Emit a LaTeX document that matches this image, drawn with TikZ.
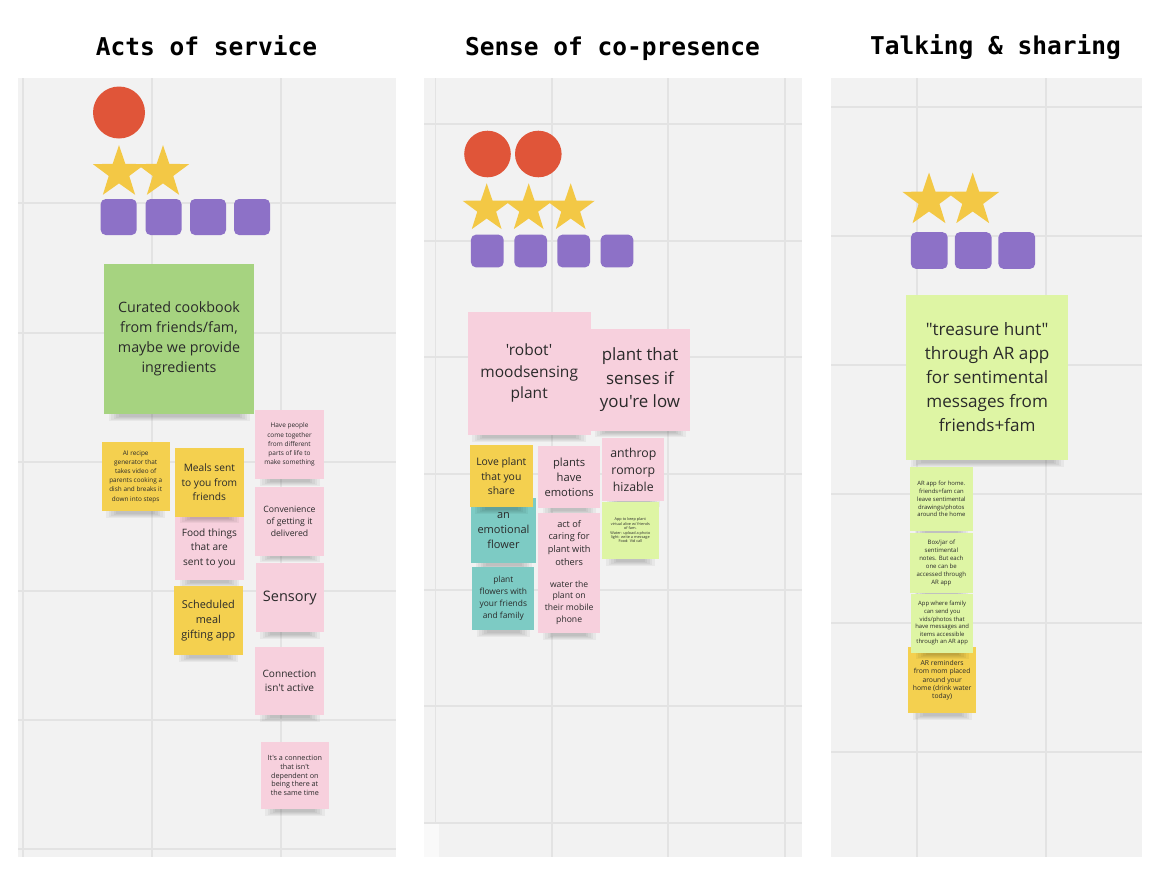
\documentclass[tikz,border=0pt]{standalone}
\usepackage{fontspec}
\setmainfont{Open Sans}[Ligatures=TeXOff]
\newfontfamily\titlefont{DejaVu Sans Mono}
\usetikzlibrary{shapes.geometric}
\definecolor{panelbg}{HTML}{F2F2F2}
\definecolor{gridc}{HTML}{E3E3E3}
\definecolor{redc}{HTML}{E05539}
\definecolor{starc}{HTML}{F3C845}
\definecolor{purpc}{HTML}{8D71C7}
\definecolor{stgreen}{HTML}{A6D380}
\definecolor{stlgreen}{HTML}{DEF5A4}
\definecolor{stpink}{HTML}{F7D0DD}
\definecolor{styellow}{HTML}{F4D04F}
\definecolor{stteal}{HTML}{7DCBC4}
\definecolor{txtc}{HTML}{2A2A2A}
\newcommand{\stick}[9]{%
  \foreach \i in {1,...,5}{%
    \fill[black,opacity=0.045] ({#2+2+2.5*\i},{#5-4}) rectangle ({#4-2-2.5*\i},{#5+7.5-\i});}
  \node[sticky, fill=#6, minimum width={#4-#2}, minimum height={#5-#3},
        font=\fontsize{#7}{#8}\selectfont] (#1) at ({(#2+#4)/2},{(#3+#5)/2}) {#9};%
}
\begin{document}
\begin{tikzpicture}[x=1pt,y=-1pt,
  title/.style={font=\titlefont\bfseries\fontsize{24.5}{28}\selectfont, text=black, anchor=base, inner sep=0pt},
  sticky/.style={inner sep=0pt, align=center, text=txtc},
  dot/.style={circle, fill=redc, inner sep=0pt},
  starn/.style={star, star points=5, star point ratio=2.55, fill=starc, inner sep=0pt},
  sq/.style={rectangle, rounded corners=5pt, fill=purpc, inner sep=0pt},
  gridline/.style={draw=gridc, line width=1.3pt}]
\useasboundingbox (0,0) rectangle (1162,892);
\fill[white] (0,0) rectangle (1162,892);

% titles
\node[title] (t1) at (206.5,55) {Acts of service};
\node[title] (t2) at (612.5,55) {Sense of co-presence};
\node[title] (t3) at (995.5,54) {Talking \& sharing};

% panels
\fill[panelbg] (18,78) rectangle (396,857);
\fill[panelbg] (424,78) rectangle (802,857);
\fill[panelbg] (831,78) rectangle (1142,857);
\begin{scope}
  \clip (18,78) rectangle (396,857);
  \foreach \x in {23,152,281} \draw[gridline] (\x,78) -- (\x,857);
  \foreach \y in {203,333,462,591,720,849} \draw[gridline] (18,\y) -- (396,\y);
\end{scope}
\begin{scope}
  \clip (424,78) rectangle (802,857);
  \foreach \x in {435.5,552,668,785} \draw[gridline] (\x,78) -- (\x,857);
  \foreach \y in {124,241,357,474,590,706,823} \draw[gridline] (424,\y) -- (802,\y);
  \fill[white!55!panelbg] (424,824) rectangle (438.5,857);
\end{scope}
\begin{scope}
  \clip (831,78) rectangle (1142,857);
  \foreach \x in {917,1046} \draw[gridline] (\x,78) -- (\x,857);
  \foreach \y in {107,236,365,494,623,752} \draw[gridline] (831,\y) -- (1142,\y);
\end{scope}

% ---- left: markers
\node[dot, minimum size=52pt] (lc1) at (119,112.5) {};
\node[starn, minimum size=55pt] (ls1) at (119,172.6) {};
\node[starn, minimum size=55pt] (ls2) at (163,172.6) {};
\node[sq, minimum size=36pt] (lq1) at (118.7,217) {};
\node[sq, minimum size=36pt] (lq2) at (163.5,217) {};
\node[sq, minimum size=36pt] (lq3) at (208,217) {};
\node[sq, minimum size=36pt] (lq4) at (252,217) {};

% ---- middle: markers
\node[dot, minimum size=46.6pt] (mc1) at (487.5,154) {};
\node[dot, minimum size=46.6pt] (mc2) at (538.3,154) {};
\node[starn, minimum size=50.6pt] (ms1) at (486.7,208.6) {};
\node[starn, minimum size=50.6pt] (ms2) at (528.7,208.6) {};
\node[starn, minimum size=50.6pt] (ms3) at (570.7,208.6) {};
\node[sq, minimum size=32.7pt] (mq1) at (487.3,251) {};
\node[sq, minimum size=32.7pt] (mq2) at (530.7,251) {};
\node[sq, minimum size=32.7pt] (mq3) at (573.7,251) {};
\node[sq, minimum size=32.7pt] (mq4) at (617,251) {};

% ---- right: markers
\node[starn, minimum size=56pt] (rs1) at (929,200.5) {};
\node[starn, minimum size=56pt] (rs2) at (972.7,200.5) {};
\node[sq, minimum size=36.7pt] (rq1) at (929.3,250.5) {};
\node[sq, minimum size=36.7pt] (rq2) at (973.2,250.5) {};
\node[sq, minimum size=36.7pt] (rq3) at (1016.8,250.5) {};

% ---- left stickies
\stick{cook}{104}{264}{254}{414}{stgreen}{14.3}{20}{Curated cookbook\\from friends/fam,\\maybe we provide\\ingredients}
\stick{airecipe}{101.7}{442}{169.7}{511}{styellow}{6.4}{9.2}{AI recipe\\generator that\\takes video of\\parents cooking a\\dish and breaks it\\down into steps}
\stick{food}{175}{516.7}{243.7}{580}{stpink}{10.1}{14.2}{Food things\\that are\\sent to you}
\stick{meals}{175}{447.7}{243.7}{516.7}{styellow}{10.2}{14.3}{Meals sent\\to you from\\friends}
\stick{sched}{174}{586}{242.7}{655}{styellow}{10.9}{15.3}{Scheduled\\meal\\gifting app}
\stick{havepeople}{255}{410}{324}{479}{stpink}{6.5}{9.1}{Have people\\come together\\from different\\parts of life to\\make something}
\stick{conv}{255}{487}{324}{555.7}{stpink}{8.7}{12.3}{Convenience\\of getting it\\delivered}
\stick{sensory}{255.7}{563}{324}{632}{stpink}{14.5}{17}{Sensory}
\stick{conn}{255}{646.7}{324}{715}{stpink}{10.1}{14}{Connection\\isn't active}
\stick{itsconn}{260.7}{742}{329}{809}{stpink}{7.2}{8.8}{It's a connection\\that isn't\\dependent on\\being there at\\the same time}

% ---- middle stickies
\stick{plantthat}{590}{329.3}{690}{430.7}{stpink}{16.9}{23.5}{plant that\\senses if\\you're low}
\stick{robot}{467.7}{311.7}{590.7}{435}{stpink}{15.5}{21.5}{'robot'\\moodsensing\\plant}
\stick{emoflower}{471}{498}{536}{563.3}{stteal}{11}{15.3}{an\\emotional\\flower}
\stick{love}{470}{445}{532.7}{507.3}{styellow}{10.4}{14.3}{Love plant\\that you\\share}
\stick{plantflowers}{472.3}{567.3}{534.3}{630}{stteal}{8.4}{12}{plant\\flowers with\\your friends\\and family}
\stick{plantsemo}{538.3}{446}{600}{508.3}{stpink}{11.2}{15.3}{plants\\have\\emotions}
\stick{caring}{538.3}{513.3}{600}{572}{stpink}{9.2}{12.7}{act of\\caring for\\plant with\\others}
\stick{water}{538.3}{571.7}{600}{633.3}{stpink}{8.6}{11.7}{water the\\plant on\\their mobile\\phone}
\stick{anthrop}{602.3}{438.3}{664.3}{500.7}{stpink}{12.3}{17}{anthrop\\romorp\\hizable}
\stick{appkeep}{601.7}{501.7}{659}{559.3}{stlgreen}{3.8}{4.4}{App to keep plant\\virtual alive w/ friends\\of fam.\\Water: upload a photo\\light: write a message\\Food: Vid call}

% ---- right stickies
\stick{treasure}{906}{295}{1068.3}{460}{stlgreen}{17.1}{24}{"treasure hunt"\\through AR app\\for sentimental\\messages from\\friends+fam}
\stick{arapp}{910}{467.3}{972.7}{530.7}{stlgreen}{5.9}{7.8}{AR app for home.\\friends+fam can\\leave sentimental\\drawings/photos\\around the home}
\stick{boxjar}{910}{532.7}{972.7}{592.7}{stlgreen}{6.05}{8}{Box/jar of\\sentimental\\notes. But each\\one can be\\accessed through\\AR app}
\stick{arreminders}{908.3}{647.3}{976}{713.3}{styellow}{6.8}{8.3}{AR reminders\\from mom placed\\around your\\home (drink water\\today)}
\stick{appwhere}{911}{594}{973.3}{652.7}{stlgreen}{5.9}{7.6}{App where family\\can send you\\vids/photos that\\have messages and\\items accessible\\through an AR app}
\end{tikzpicture}
\end{document}
